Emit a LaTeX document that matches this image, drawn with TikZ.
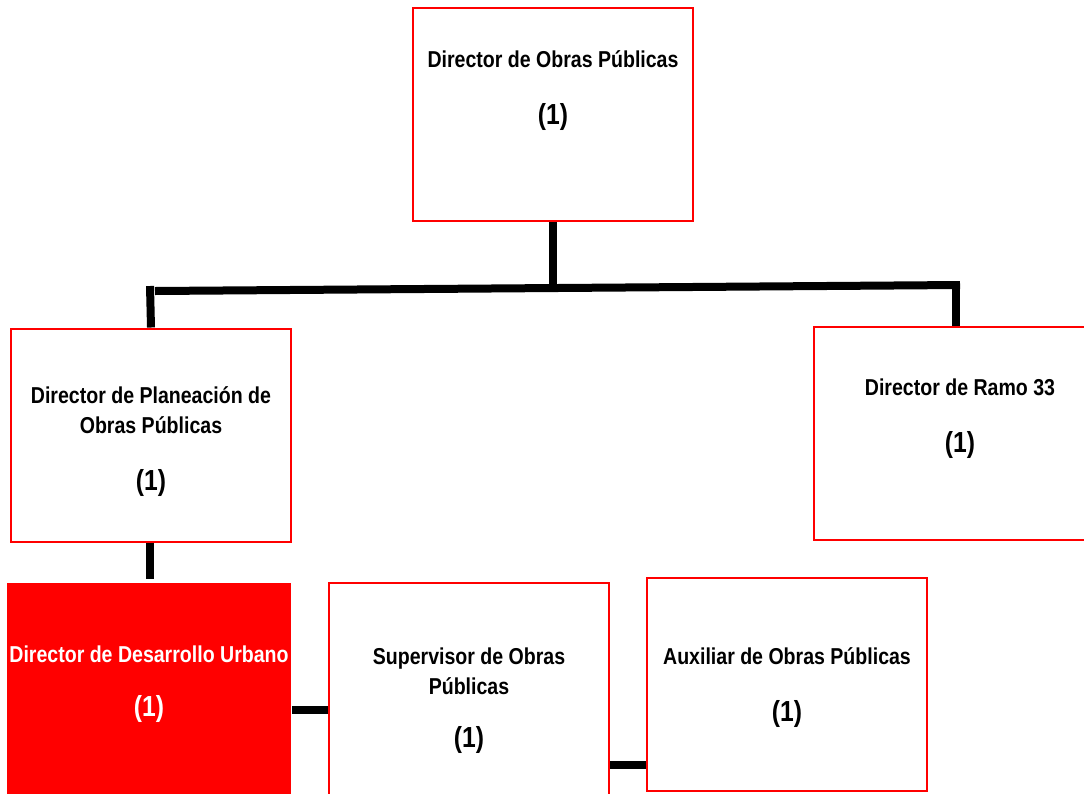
\documentclass[tikz,border=0pt]{standalone}
\usepackage{fontspec}
\setmainfont{Liberation Sans}[FakeStretch=0.85]
\usepackage{tikz}
\usetikzlibrary{calc}
\definecolor{rojo}{RGB}{255,0,0}
\def\drawlink{\draw[color=black, line width=8pt]}
\def\puesto{\node[draw=rojo, line width=2pt, inner sep=0pt, minimum width=280pt, minimum height=213pt]}
\def\cargo{\node[align=center, font=\bfseries\fontsize{23}{30}\selectfont]}
\def\plazas{\node[font=\bfseries\fontsize{29}{30}\selectfont]}

\begin{document}
\begin{tikzpicture}[x=1pt,y=-1pt]
\clip (0,0) rectangle (1084,793);

% ---------- top level
\puesto (dir) at (553,114.5) {};
\cargo (dirT) at ($ (dir.north) + (0,52) $) {Director de Obras Públicas};
\plazas (dirN) at ($ (dir.north) + (0,110) $) {(1)};

% ---------- second level
\puesto (plan) at (151,435) {};
\cargo (planT) at ($ (plan.north) + (0,83) $) {Director de Planeación de\\Obras Públicas};
\plazas (planN) at ($ (plan.north) + (0,155) $) {(1)};

\puesto[minimum width=284pt] (ramo) at (956,433.5) {}; % runs off the right edge
\cargo (ramoT) at ($ (ramo.north) + (4,61) $) {Director de Ramo 33};
\plazas (ramoN) at ($ (ramo.north) + (4,119) $) {(1)};

% ---------- third level (bottom rows are cut by the page)
\puesto[fill=rojo, minimum width=282pt, minimum height=220pt] (des) at (149,694) {};
\cargo[text=white] (desT) at ($ (des.north) + (0,71) $) {Director de Desarrollo Urbano};
\plazas[text=white] (desN) at ($ (des.north) + (0,126) $) {(1)};

\puesto[minimum height=220pt] (sup) at (469,693) {};
\cargo (supT) at ($ (sup.north) + (0,89) $) {Supervisor de Obras\\Públicas};
\plazas (supN) at ($ (sup.north) + (0,158) $) {(1)};

\puesto (aux) at (787,684) {};
\cargo (auxT) at ($ (aux.north) + (0,80) $) {Auxiliar de Obras Públicas};
\plazas (auxN) at ($ (aux.north) + (0,137) $) {(1)};

% ---------- connectors
\coordinate (bus) at (553,288);
\coordinate (busL) at (155,291);
\coordinate (busR) at (960,285);
\coordinate (planTop) at (150,286);
\coordinate (ramoTop) at (956,283);
\drawlink (dir.south) -- (bus);
\drawlink (busL) -- (busR);
\drawlink (plan.north) -- (planTop);
\drawlink (ramo.north) -- (ramoTop);
\drawlink ($ (plan.south) + (-1,0) $) -- ($ (des.north) + (1,-4) $);

\coordinate (desR) at (292,710);
\coordinate (supR) at (610,765);
\drawlink (desR) -- (desR -| sup.west);
\drawlink (supR) -- (supR -| aux.west);
\end{tikzpicture}
\end{document}
